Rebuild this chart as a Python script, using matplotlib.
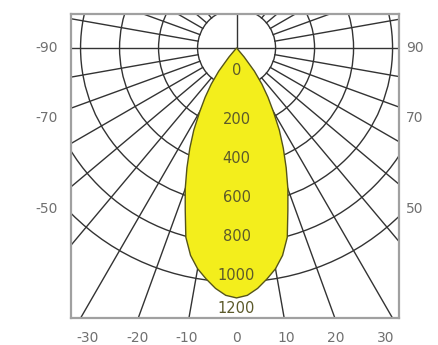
import numpy as np
import matplotlib.pyplot as plt
from matplotlib.patches import Circle

# luminous intensity (cd) against angle from nadir, beam is symmetric
angles = [0, 2.5, 5, 7.5, 10, 12.5, 15, 17.5, 20, 22.5, 25, 27.5, 30, 32.5, 35, 37.5, 40, 42.5]
intensity = [1282, 1270, 1238, 1195, 1150, 1090, 1005, 875, 770, 665, 567, 475, 378, 300, 226, 150, 60, 0]

ring_values = [200, 400, 600, 800, 1000, 1200]
scale_labels = [0, 200, 400, 600, 800, 1000, 1200]
bottom_ticks = [-30, -20, -10, 0, 10, 20, 30]
side_ticks = [90, 70, 50]

grid_c = '#333333'
text_c = '#707070'

fig = plt.figure(figsize=(4.38, 3.45), dpi=100)
ax = fig.add_axes([71 / 438, 27 / 345, 328 / 438, 304 / 345])
ax.set_xlim(-849, 833)
ax.set_ylim(-1385, 174)
ax.set_xticks([])
ax.set_yticks([])
for sp in ax.spines.values():
    sp.set_color('#a0a0a0')
    sp.set_linewidth(1.6)

# polar grid: rings and radial lines starting at the first ring
for r in ring_values:
    ax.add_patch(Circle((0, 0), r, fill=False, ec=grid_c, lw=1.0, zorder=1))
for a in range(10, 180, 10):
    if a == 90:
        continue
    t = np.radians(a)
    for s in (-1, 1):
        ax.plot([s * 200 * np.sin(t), s * 2500 * np.sin(t)],
                [-200 * np.cos(t), -2500 * np.cos(t)], color=grid_c, lw=1.0, zorder=1)
ax.axhline(0, color=grid_c, lw=1.0, zorder=1)
ax.plot([0, 0], [0, 500], color=grid_c, lw=1.0, zorder=1)

# intensity curve
th = np.radians(np.concatenate([-np.array(angles[::-1]), np.array(angles[1:])]))
cd = np.concatenate([np.array(intensity[::-1]), np.array(intensity[1:])])
ax.fill(cd * np.sin(th), -cd * np.cos(th), facecolor='#f3ee1c',
        edgecolor='#55541a', lw=1.0, zorder=2)

# intensity scale along the axis
for v in scale_labels:
    r = v + 165 if v else 115
    ax.text(0, -min(r, 1335), str(v), ha='center', va='center',
            fontsize=10.5, color='#5c5a2a', zorder=3)

# angle labels
for t in bottom_ticks:
    ax.text(t * 25.5, -1487, str(t), ha='center', va='center',
            fontsize=10, color=text_c, clip_on=False)
side_y = {90: 0, 70: -359, 50: -828}
for t in side_ticks:
    ax.text(-975, side_y[t], '-' + str(t), ha='center', va='center',
            fontsize=10, color=text_c, clip_on=False)
    ax.text(915, side_y[t], str(t), ha='center', va='center',
            fontsize=10, color=text_c, clip_on=False)

fig.savefig('out.png', dpi=100)
